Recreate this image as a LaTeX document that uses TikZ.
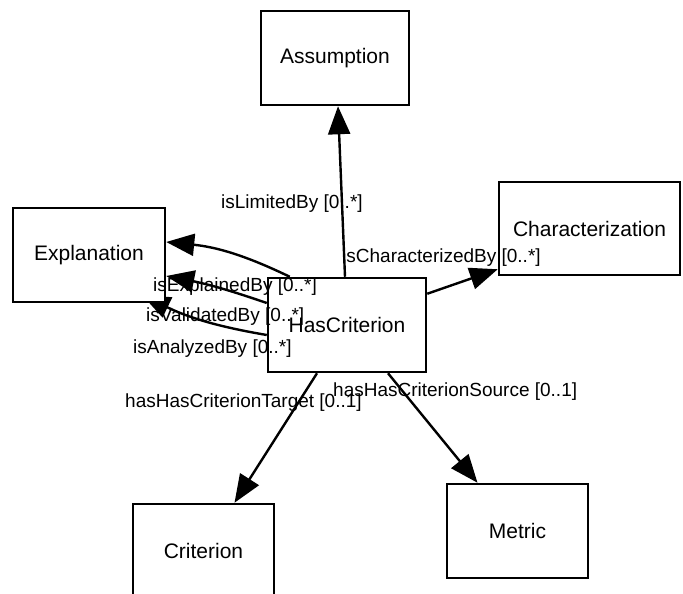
\documentclass[tikz,border=0pt]{standalone}
\usepackage{fontspec}
\setmainfont{Liberation Sans}
\usetikzlibrary{arrows.meta,calc,backgrounds}

\tikzset{
  cls/.style={draw, line width=2.5pt, fill=white, inner sep=0pt,
              font=\fontsize{21}{25}\selectfont},
  rel/.style={line width=2.4pt, -{Triangle[length=28pt,width=22pt]}},
  lbl/.style={anchor=west, inner sep=0pt, font=\fontsize{19}{23}\selectfont}
}

\begin{document}
\begin{tikzpicture}[x=1pt,y=-1pt]
  \useasboundingbox (0,0) rectangle (683,594);

  % classes
  \node[cls, minimum width=148pt, minimum height=94pt] (as) at (335,58) {Assumption};
  \node[cls, minimum width=181pt, minimum height=93pt] (ch) at (589.5,228.5) {Characterization};
  \node[cls, minimum width=152pt, minimum height=94pt] (ex) at (89,255) {Explanation};
  \node[cls, minimum width=158pt, minimum height=94pt] (hc) at (347,325) {HasCriterion};
  \node[cls, minimum width=141pt, minimum height=94pt] (cr) at (203.5,551) {Criterion};
  \node[cls, minimum width=141pt, minimum height=94pt] (me) at (517.5,531) {Metric};

  % relations, drawn beneath the class boxes
  \begin{scope}[on background layer]
    \draw[rel] ($(hc.north)+(-2,0)$) -- ($(as.south)+(3,0)$);
    \draw[rel] ($(hc.north east)+(0,17)$) -- ($(ch.south west)+(0,-7)$);
    \draw[rel] ($(hc.north west)+(23,0)$) to[bend right=10] ($(ex.east)+(0,-13)$);
    \draw[rel] ($(hc.west)+(0,-22)$) to[bend right=4] ($(ex.east)+(0,21)$);
    \draw[rel] ($(hc.west)+(0,10)$) to[bend left=8] ($(ex.south east)+(-24,-8)$);
    \draw[rel] ($(hc.south)+(-30,0)$) -- ($(cr.north)+(31,0)$);
    \draw[rel] ($(hc.south)+(41,0)$) -- ($(me.north)+(-40,0)$);
  \end{scope}

  % role labels
  \node[lbl] (l1) at (221,204) {isLimitedBy [0..*]};
  \node[lbl] (l2) at (342,258) {isCharacterizedBy [0..*]};
  \node[lbl] (l3) at (153,287) {isExplainedBy [0..*]};
  \node[lbl] (l4) at (146,317) {isValidatedBy [0..*]};
  \node[lbl] (l5) at (133,349) {isAnalyzedBy [0..*]};
  \node[lbl] (l6) at (125,403) {hasHasCriterionTarget [0..1]};
  \node[lbl] (l7) at (333,392) {hasHasCriterionSource [0..1]};
\end{tikzpicture}
\end{document}
